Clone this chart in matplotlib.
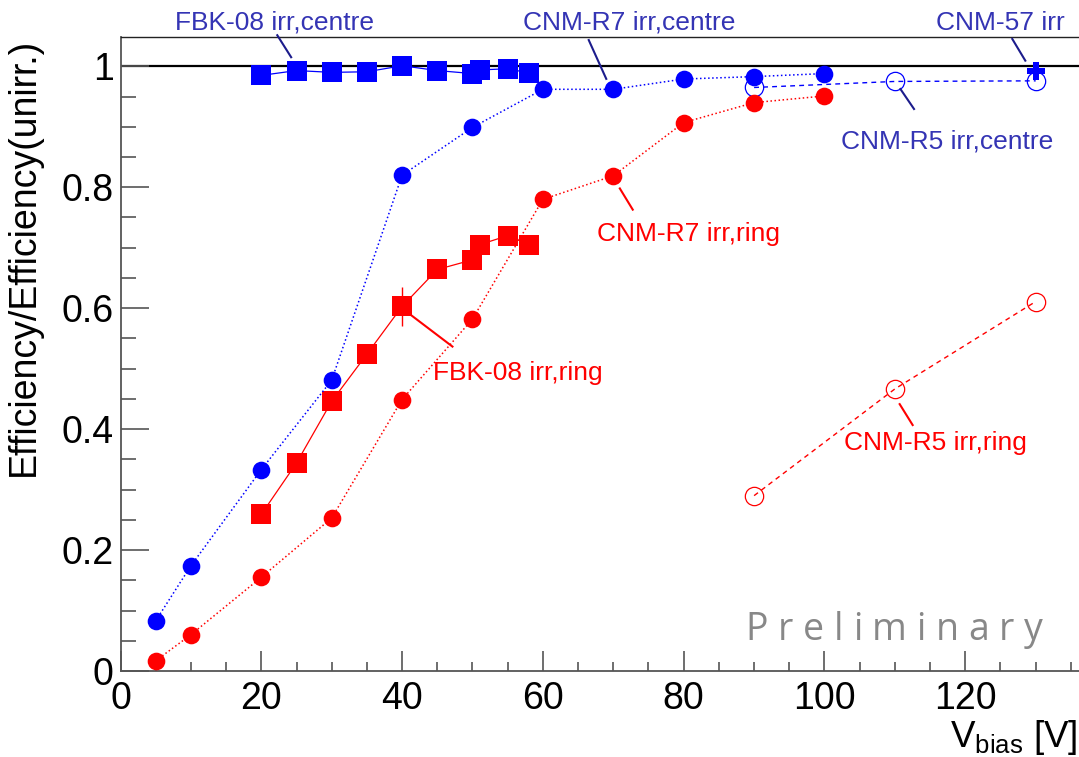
import matplotlib
matplotlib.use("Agg")
import matplotlib.pyplot as plt
from matplotlib.ticker import MultipleLocator, FixedLocator, FixedFormatter

plt.rcParams["font.family"] = ["Liberation Sans", "DejaVu Sans"]
plt.rcParams["mathtext.fontset"] = "custom"
plt.rcParams["mathtext.rm"] = "Liberation Sans"
plt.rcParams["mathtext.it"] = "Liberation Sans:italic"

# ---------------- data ----------------
fbk_v = [20, 25, 30, 35, 40, 45, 50, 51, 55, 58]
fbk_centre = [0.985, 0.993, 0.990, 0.991, 1.001, 0.993, 0.988, 0.994, 0.996, 0.989]
fbk_ring = [0.259, 0.344, 0.446, 0.524, 0.603, 0.664, 0.680, 0.705, 0.720, 0.705]
fbk_ring_err = [0, 0, 0, 0, 0.032, 0, 0, 0, 0, 0]

r7_v = [5, 10, 20, 30, 40, 50, 60, 70, 80, 90, 100]
r7_centre = [0.083, 0.174, 0.333, 0.481, 0.820, 0.899, 0.962, 0.962, 0.979, 0.983, 0.988]
r7_ring = [0.017, 0.060, 0.155, 0.253, 0.449, 0.582, 0.780, 0.819, 0.907, 0.940, 0.951]

r5_v = [90, 110, 130]
r5_centre = [0.965, 0.975, 0.976]
r5_ring = [0.290, 0.4665, 0.611]

c57_v = [130]
c57_eff = [0.9925]

x_ticks = [0, 20, 40, 60, 80, 100, 120]
x_ticklabels = ["0", "20", "40", "60", "80", "100", "120"]
y_ticks = [0, 0.2, 0.4, 0.6, 0.8, 1.0]
y_ticklabels = ["0", "0.2", "0.4", "0.6", "0.8", "1"]

BLUE = "#0000ff"
RED = "#ff0000"
LBL_BLUE = "#3434b4"
LEAD_BLUE = "#1c1c8c"

W, H = 1079, 757
fig = plt.figure(figsize=(W / 100, H / 100), dpi=100)

x_lo, x_hi = 0, 140
y_lo, y_hi = 0, 1.048
px_per_v = 7.04
ax_left, ax_bottom_px, ax_top_px = 120.5, 671.0, 37.3
ax_w_px = (x_hi - x_lo) * px_per_v
ax = fig.add_axes([ax_left / W, (H - ax_bottom_px) / H, ax_w_px / W,
                   (ax_bottom_px - ax_top_px) / H])
ax.set_xlim(x_lo, x_hi)
ax.set_ylim(y_lo, y_hi)

# reference line at unity
ax.axhline(1.0, color="black", lw=1.6, zorder=1)

dashed = (0, (3.5, 3.0))

# CNM-R5 (open circles, dashed)
ax.plot(r5_v, r5_centre, color=BLUE, ls=dashed, lw=1.0, marker="o", ms=13.2,
        mfc="none", mec=BLUE, mew=0.9, zorder=3)
ax.plot(r5_v, r5_ring, color=RED, ls=dashed, lw=1.0, marker="o", ms=13.2,
        mfc="none", mec=RED, mew=0.9, zorder=3)

# FBK-08 (squares, solid)
ax.plot(fbk_v, fbk_centre, color=BLUE, ls="-", lw=0.9, marker="s", ms=14.2,
        mec=BLUE, mew=0, zorder=4)
ax.errorbar(fbk_v, fbk_ring, yerr=fbk_ring_err, color=RED, ls="-", lw=0.9,
            marker="s", ms=14.2, mec=RED, mew=0, elinewidth=1.0, capsize=1.8,
            capthick=1.0, zorder=4)

# CNM-R7 (filled circles, dotted)
ax.plot(r7_v, r7_centre, color=BLUE, ls=":", lw=1.1, marker="o", ms=12.7,
        mec=BLUE, mew=0, zorder=5)
ax.plot(r7_v, r7_ring, color=RED, ls=":", lw=1.1, marker="o", ms=12.7,
        mec=RED, mew=0, zorder=5)

# CNM-57 (filled cross)
ax.plot(c57_v, c57_eff, ls="none", marker="P", ms=12.5, color=BLUE, mew=0,
        zorder=6)

# axes styling
ax.spines["right"].set_visible(False)
ax.spines["left"].set_color("#555555")
ax.spines["bottom"].set_color("#555555")
ax.spines["left"].set_linewidth(1.3)
ax.spines["bottom"].set_linewidth(1.3)
ax.spines["top"].set_color("#222222")
ax.spines["top"].set_linewidth(1.0)

ax.xaxis.set_major_locator(FixedLocator(x_ticks))
ax.xaxis.set_major_formatter(FixedFormatter(x_ticklabels))
ax.xaxis.set_minor_locator(MultipleLocator(5))
ax.yaxis.set_major_locator(FixedLocator(y_ticks))
ax.yaxis.set_major_formatter(FixedFormatter(y_ticklabels))
ax.yaxis.set_minor_locator(MultipleLocator(0.05))

ax.tick_params(axis="both", which="both", direction="in", color="#555555",
               width=1.2, top=False, right=False, labelsize=27,
               labelcolor="black")
ax.tick_params(axis="y", which="major", length=20, pad=5)
ax.tick_params(axis="y", which="minor", length=10.8)
ax.tick_params(axis="x", which="major", length=14.4, pad=7)
ax.tick_params(axis="x", which="minor", length=6.7)

# axis titles
fig.text(23.5 / W, 1 - 38 / H, "Efficiency/Efficiency(unirr.)", rotation=90,
         ha="center", va="top", fontsize=27)
fig.text(1078 / W, (H - 747) / H, r"V$_{\mathrm{bias}}$ [V]", ha="right",
         va="baseline", fontsize=26.5)

# series labels with leader lines (data coordinates)
labels = [
    ("FBK-08 irr,centre", LBL_BLUE, LEAD_BLUE, (7.74, 1.0604), (22.19, 1.0529), (24.32, 1.0136)),
    ("CNM-R7 irr,centre", LBL_BLUE, LEAD_BLUE, (57.17, 1.0604), (66.45, 1.045), (69.06, 0.9777)),
    ("CNM-57 irr", LBL_BLUE, LEAD_BLUE, (115.8, 1.0604), (126.6, 1.0467), (128.6, 1.0079)),
    ("CNM-R5 irr,centre", LBL_BLUE, LEAD_BLUE, (102.4, 0.8647), (110.7, 0.9639), (112.8, 0.928)),
    ("CNM-R7 irr,ring", RED, RED, (67.7, 0.711), (70.85, 0.7995), (72.84, 0.7615)),
    ("FBK-08 irr,ring", RED, RED, (44.43, 0.4814), (41.22, 0.589), (47.27, 0.5355)),
    ("CNM-R5 irr,ring", RED, RED, (102.7, 0.3656), (110.6, 0.4428), (112.6, 0.4053)),
]
for text, tcol, lcol, tpos, p0, p1 in labels:
    ax.text(tpos[0], tpos[1], text, color=tcol, fontsize=19, ha="left",
            va="baseline", clip_on=False, zorder=7)
    ax.plot([p0[0], p1[0]], [p0[1], p1[1]], color=lcol, lw=1.5,
            solid_capstyle="butt", clip_on=False, zorder=7)

# letter-spaced "Preliminary" watermark
fig.canvas.draw()
renderer = fig.canvas.get_renderer()
word = "Preliminary"
prelim_kw = dict(fontsize=27, family=["Open Sans", "DejaVu Sans"], color="#888888")
widths = []
for ch in word:
    t = fig.text(0, 0, ch, **prelim_kw)
    widths.append(t.get_window_extent(renderer=renderer).width)
    t.remove()
x0_px, x1_px = 745.0, 1043.0
gap = ((x1_px - x0_px) - sum(widths)) / (len(word) - 1)
xc = x0_px
for ch, w in zip(word, widths):
    fig.text(xc / W, (H - 640) / H, ch, ha="left", va="baseline", **prelim_kw)
    xc += w + gap

fig.savefig("out.png", dpi=100)
